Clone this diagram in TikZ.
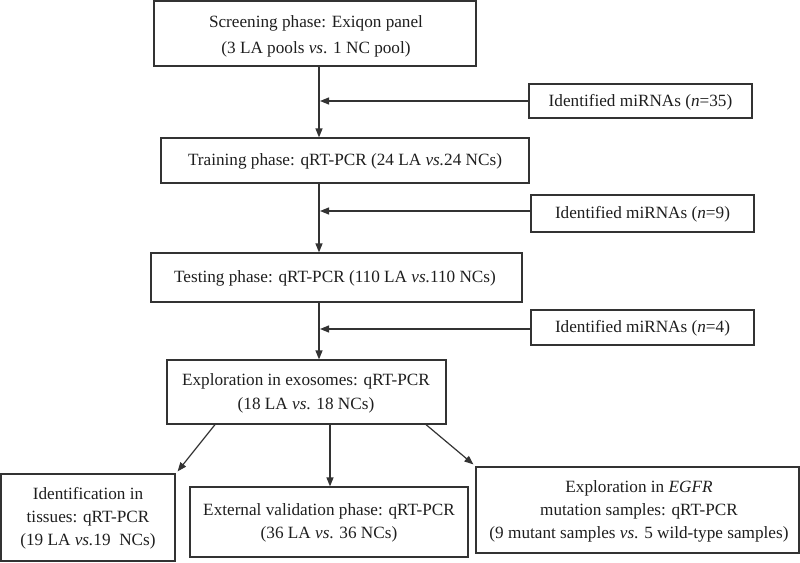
\documentclass[tikz,border=0pt]{standalone}
\usepackage{fontspec}
\setmainfont{Liberation Serif}
\usetikzlibrary{arrows.meta}
\definecolor{ln}{HTML}{333333}
\definecolor{tx}{HTML}{1E1E1E}
\tikzset{
  boxst/.style={draw=ln, line width=1.2pt, inner sep=0pt},
  txt/.style={text=tx, align=center, font=\fontsize{17.2}{23}\selectfont, inner sep=0pt},
  arr/.style={draw=ln, line width=1.2pt, -{Triangle[length=9pt,width=7pt]}}
}
\begin{document}
\begin{tikzpicture}[x=1pt,y=-1pt]
\useasboundingbox (0,0) rectangle (800,562);
\coordinate (ax) at (319,0);
% main boxes
\node[boxst, minimum width=322pt, minimum height=65pt] (b1) at (315,33.5) {};
\node[txt] (t1) at (316,36) {Screening phase: Exiqon panel\\[3pt](3 LA pools \textit{vs}. 1 NC pool)};
\node[boxst, minimum width=368pt, minimum height=45pt] (b2) at (345,160.5) {};
\node[txt] (t2) at (345,161) {Training phase: qRT-PCR (24 LA \textit{vs.}24 NCs)};
\node[boxst, minimum width=371pt, minimum height=49pt] (b3) at (336.5,277.5) {};
\node[txt] (t3) at (335,278) {Testing phase: qRT-PCR (110 LA \textit{vs.}110 NCs)};
\node[boxst, minimum width=279pt, minimum height=64pt] (b4) at (306.5,392) {};
\node[txt] (t4) at (306,393) {Exploration in exosomes: qRT-PCR\\[1pt](18 LA \textit{vs}. 18 NCs)};
% side boxes
\node[boxst, minimum width=223pt, minimum height=34pt] (m1) at (640.5,101) {};
\node[txt] (u1) at (640.5,102) {Identified miRNAs (\textit{n}=35)};
\node[boxst, minimum width=223pt, minimum height=37pt] (m2) at (642.5,213.5) {};
\node[txt] (u2) at (642.5,214) {Identified miRNAs (\textit{n}=9)};
\node[boxst, minimum width=223pt, minimum height=35pt] (m3) at (642.5,327.5) {};
\node[txt] (u3) at (642.5,328) {Identified miRNAs (\textit{n}=4)};
% bottom boxes
\node[boxst, minimum width=174pt, minimum height=87pt] (b5) at (88,517.5) {};
\node[txt] (t5) at (88,518) {Identification in\\tissues: qRT-PCR\\(19 LA \textit{vs.}19\ \ NCs)};
\node[boxst, minimum width=278pt, minimum height=70pt] (b6) at (329,522) {};
\node[txt] (t6) at (329,523) {External validation phase: qRT-PCR\\(36 LA \textit{vs}. 36 NCs)};
\node[boxst, minimum width=323pt, minimum height=86pt] (b7) at (637.5,510) {};
\node[txt] (t7) at (639,511) {Exploration in \textit{EGFR}\\mutation samples: qRT-PCR\\(9 mutant samples \textit{vs}. 5 wild-type samples)};
% connectors
\draw[arr] (b1.south -| ax) -- (b2.north -| ax);
\draw[arr] (b2.south -| ax) -- (b3.north -| ax);
\draw[arr] (b3.south -| ax) -- (b4.north -| ax);
\draw[arr] (m1.west) -- ([xshift=1pt]m1.west -| ax);
\draw[arr] ([yshift=2.5pt]m2.west) -- ([xshift=1pt,yshift=2.5pt]m2.west -| ax);
\draw[arr] ([yshift=-1.5pt]m3.west) -- ([xshift=1pt,yshift=-1.5pt]m3.west -| ax);
\draw[arr] ([xshift=-91.5pt]b4.south) -- ([xshift=2pt,yshift=2pt]b5.north east);
\draw[arr] ([xshift=23.5pt]b4.south) -- (b6.north -| {(330,0)});
\draw[arr] ([xshift=119.5pt]b4.south) -- ([xshift=-2pt,yshift=2pt]b7.north west);
\end{tikzpicture}
\end{document}
